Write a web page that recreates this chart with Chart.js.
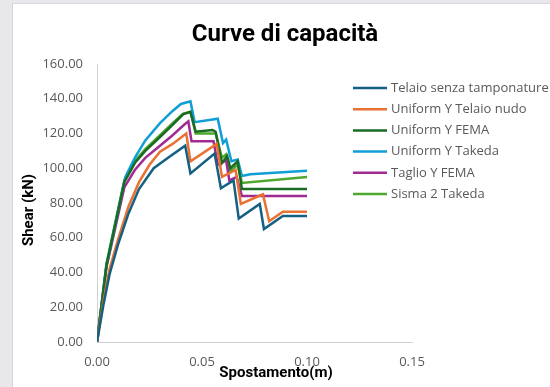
<!DOCTYPE html>
<html><head><meta charset="utf-8">
<script src="https://cdn.jsdelivr.net/npm/chart.js@4.4.1/dist/chart.umd.min.js"></script>
<style>
html,body{margin:0;padding:0;width:550px;height:387px;overflow:hidden;background:#e8e8ec;}
#card{position:absolute;left:12px;top:3px;width:538px;height:384px;background:#fff;border-left:1px solid #d4d4d8;border-top:1px solid #dadade;}
canvas{position:absolute;left:0;top:0;}
</style></head><body>
<div id="card"></div>
<canvas id="c" width="550" height="387"></canvas>
<script>
// ---- data ----
const chartTitle = 'Curve di capacità';
const xAxisTitle = 'Spostamento(m)';
const yAxisTitle = 'Shear (kN)';
const seriesLabels = ['Telaio senza tamponature','Uniform Y Telaio nudo','Uniform Y FEMA','Uniform Y Takeda','Taglio Y FEMA','Sisma 2 Takeda'];
const xTickValues = [0, 0.05, 0.10, 0.15];
const yTickValues = [0, 20, 40, 60, 80, 100, 120, 140, 160];

const telaioX = [0, 0.003, 0.006, 0.010, 0.015, 0.020, 0.027, 0.035, 0.042, 0.0445, 0.056, 0.059, 0.065, 0.0675, 0.0775, 0.0795, 0.0885, 0.100];
const telaioY = [0, 21, 39, 56, 74, 88, 100, 107, 113, 97, 108.5, 88.5, 93, 71, 79.5, 65, 72.5, 72.5];

const nudoX = [0, 0.003, 0.006, 0.010, 0.015, 0.020, 0.025, 0.030, 0.036, 0.0425, 0.0445, 0.057, 0.0595, 0.066, 0.0685, 0.079, 0.082, 0.0885, 0.100];
const nudoY = [0, 23, 42, 59, 78, 92, 102, 109.5, 114, 120, 104, 114, 95, 99, 79.5, 85, 69.5, 75, 75];

const femaX = [0, 0.0045, 0.013, 0.018, 0.023, 0.030, 0.036, 0.041, 0.0445, 0.047, 0.055, 0.0565, 0.0595, 0.062, 0.0635, 0.067, 0.069, 0.100];
const femaY = [0, 44, 92, 103, 110, 118, 125, 131, 132.5, 121, 122, 121, 103, 107, 100, 104, 88, 88];

const takedaX = [0, 0.0045, 0.0135, 0.018, 0.023, 0.030, 0.036, 0.040, 0.0445, 0.0465, 0.0575, 0.060, 0.0615, 0.064, 0.067, 0.069, 0.073, 0.100];
const takedaY = [0, 44, 95, 106, 116, 126, 133, 137, 138.5, 126.5, 128.5, 114.5, 116.5, 104, 105, 95.5, 96.5, 98.5];

const taglioX = [0, 0.0045, 0.013, 0.018, 0.023, 0.030, 0.036, 0.0415, 0.0435, 0.045, 0.0555, 0.0575, 0.0615, 0.063, 0.0665, 0.069, 0.100];
const taglioY = [0, 43, 89, 99, 106, 113, 119, 125, 127, 115.5, 115.5, 102, 104.5, 93, 95, 84, 84];

const sismaX = [0, 0.0045, 0.013, 0.018, 0.023, 0.030, 0.036, 0.041, 0.0445, 0.047, 0.0565, 0.0595, 0.0615, 0.063, 0.067, 0.069, 0.100];
const sismaY = [0, 45, 93, 104, 111, 119, 126, 131.5, 132.5, 120, 120, 106, 108, 98, 102, 91.5, 95];

const seriesColors = ['#156082','#E97132','#196B24','#0F9ED5','#A02B93','#4EA72E'];
// ---- build ----
const xs = [telaioX, nudoX, femaX, takedaX, taglioX, sismaX];
const ys = [telaioY, nudoY, femaY, takedaY, taglioY, sismaY];
const datasets = seriesLabels.map((lab, i) => ({
  label: lab,
  data: xs[i].map((x, j) => ({x: x, y: ys[i][j]})),
  borderColor: seriesColors[i],
  backgroundColor: seriesColors[i],
  borderWidth: 2.5,
  pointRadius: 0,
  tension: 0,
  fill: false
}));

const textPlugin = {
  id: 'texts',
  afterDraw(chart) {
    const ctx = chart.ctx;
    ctx.save();
    ctx.fillStyle = '#000';
    ctx.textAlign = 'center';
    ctx.textBaseline = 'middle';
    ctx.font = 'bold 24px Roboto';
    ctx.fillText(chartTitle, 285, 35);
    ctx.font = 'bold 15px Roboto';
    ctx.fillText(xAxisTitle, 276, 373);
    ctx.translate(29, 210);
    ctx.rotate(-Math.PI / 2);
    ctx.fillText(yAxisTitle, 0, 0);
    ctx.restore();
    // legend
    ctx.save();
    ctx.font = '13px "Open Sans"';
    ctx.textBaseline = 'middle';
    ctx.textAlign = 'left';
    chart.data.datasets.forEach((ds, i) => {
      const y = 88 + i * 21.2;
      ctx.strokeStyle = ds.borderColor;
      ctx.lineWidth = 2.5;
      ctx.beginPath(); ctx.moveTo(353, y); ctx.lineTo(387, y); ctx.stroke();
      ctx.fillStyle = '#595959';
      ctx.fillText(ds.label, 391, y);
    });
    ctx.restore();
  }
};

new Chart(document.getElementById('c'), {
  type: 'line',
  data: { datasets: datasets },
  plugins: [textPlugin],
  options: {
    responsive: false,
    animation: false,
    layout: { padding: { left: 0, top: 64, right: 138, bottom: 0 } },
    plugins: { legend: { display: false }, title: { display: false }, tooltip: { enabled: false } },
    scales: {
      x: {
        type: 'linear', min: 0, max: 0.15,
        afterBuildTicks: (s) => { s.ticks = xTickValues.map(v => ({value: v})); },
        afterFit: (s) => { s.height = 45; },
        grid: { display: false, drawTicks: false },
        border: { display: true, color: '#d0d0d0', width: 1 },
        ticks: { padding: 12, color: '#595959', font: { family: 'Open Sans', size: 13 }, callback: (v) => Number(v).toFixed(2), maxRotation: 0 }
      },
      y: {
        type: 'linear', min: 0, max: 160,
        afterBuildTicks: (s) => { s.ticks = yTickValues.map(v => ({value: v})); },
        afterFit: (s) => { s.width = 97; },
        grid: { display: false, drawTicks: false },
        border: { display: true, color: '#d0d0d0', width: 1 },
        ticks: { padding: 14, color: '#595959', font: { family: 'Open Sans', size: 13 }, callback: (v) => Number(v).toFixed(2) }
      }
    }
  }
});
</script>
</body></html>
